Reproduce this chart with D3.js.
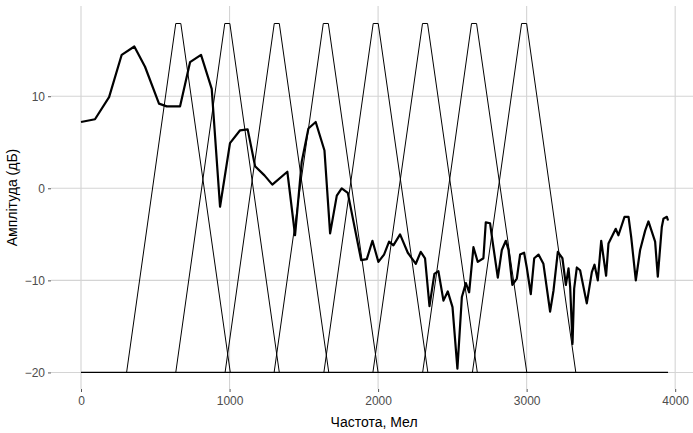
<!DOCTYPE html>
<html lang="uk">
<head>
<meta charset="UTF-8">
<title>mel filterbank</title>
<script src="https://d3js.org/d3.v7.min.js"></script>
<style>
  body { margin: 0; background: #fff; }
  text { font-family: "Liberation Sans", Arial, sans-serif; }
</style>
</head>
<body>
<script>
// spectrum (mel, dB)
var specMel = [0, 94, 189, 274, 359, 431, 525, 577, 667, 734, 808, 880, 936, 1003, 1071, 1122, 1172, 1235, 1288,
  1389, 1441, 1486, 1531, 1580, 1639, 1677, 1722, 1755, 1796, 1886, 1924, 1962, 2002, 2040, 2074, 2103, 2148,
  2200, 2254, 2287, 2316, 2346, 2379, 2406, 2440, 2469, 2501, 2534, 2564, 2591, 2613, 2642, 2671, 2709, 2725,
  2754, 2770, 2806, 2833, 2860, 2878, 2904, 2934, 2956, 2983, 3001, 3028, 3051, 3080, 3113, 3158, 3181, 3210,
  3241, 3264, 3282, 3293, 3309, 3320, 3338, 3360, 3405, 3439, 3457, 3479, 3502, 3535, 3551, 3600, 3618, 3659,
  3686, 3704, 3735, 3764, 3798, 3820, 3865, 3883, 3910, 3921, 3944, 3952];
var specDb = [7.2, 7.5, 9.9, 14.5, 15.4, 13.2, 9.2, 8.9, 8.9, 13.7, 14.5, 10.8, -2.0, 4.9, 6.3, 6.4, 2.4, 1.4, 0.4,
  1.8, -5.1, 2.9, 6.5, 7.2, 4.1, -4.9, -0.8, 0, -0.5, -7.8, -7.7, -5.7, -8.0, -7.2, -5.8, -6.2, -5.0,
  -7.0, -8.2, -6.9, -7.6, -12.8, -9.3, -9.0, -12.2, -11.2, -12.9, -19.6, -11.8, -10.3, -11.3, -6.4, -8.0, -7.6, -3.7,
  -3.8, -5.7, -9.7, -6.7, -5.7, -6.7, -10.5, -9.8, -7.2, -7.0, -8.6, -11.5, -7.6, -7.2, -8.2, -13.4, -11.1, -6.9,
  -7.6, -10.5, -8.7, -10.7, -16.9, -10.9, -8.6, -8.9, -12.5, -9.1, -8.3, -10.0, -5.7, -9.5, -6.0, -4.4, -5.1, -3.1,
  -3.1, -5.3, -10.0, -6.7, -4.6, -3.6, -5.8, -9.6, -4.2, -3.3, -3.1, -3.5];

// triangular filters (mel)
var filterCenter = [655, 985, 1318, 1648, 1984, 2316, 2646, 2983];
var filterLeft   = [307, 638, 970, 1300, 1635, 1965, 2300, 2635];
var filterRight  = [1005, 1335, 1668, 2000, 2335, 2668, 3001, 3331];
var filterTopHalf = 17;
var filterTop = 17.9;
var filterFloor = -20;
var floorStart = 0, floorEnd = 3952;

var xTicks = [0, 1000, 2000, 3000, 4000];
var yTicks = [-20, -10, 0, 10];

var w = 693, h = 433;
var mLeft = 51, mRight = 693, mTop = 6, mBottom = 389;

var x = d3.scaleLinear().domain([-202, 4120]).range([mLeft, mRight]);
var y = d3.scaleLinear().domain([-21.8, 19.8]).range([mBottom, mTop]);

var svg = d3.select("body").append("svg").attr("width", w).attr("height", h);

// grid
svg.selectAll(".gx").data(xTicks).enter().append("line")
  .attr("x1", function(d){ return x(d); }).attr("x2", function(d){ return x(d); })
  .attr("y1", mTop).attr("y2", mBottom)
  .attr("stroke", "#d4d4d4").attr("stroke-width", 1.1);
svg.selectAll(".gy").data(yTicks).enter().append("line")
  .attr("y1", function(d){ return y(d); }).attr("y2", function(d){ return y(d); })
  .attr("x1", mLeft).attr("x2", mRight)
  .attr("stroke", "#d4d4d4").attr("stroke-width", 1.1);

// axes
var xAxis = d3.axisBottom(x).tickValues(xTicks).tickFormat(d3.format("d")).tickSize(3).tickPadding(4);
var yAxis = d3.axisLeft(y).tickValues(yTicks).tickFormat(d3.format("d")).tickSize(3).tickPadding(3);

var gx = svg.append("g").attr("transform", "translate(0," + mBottom + ")").call(xAxis);
var gy = svg.append("g").attr("transform", "translate(" + mLeft + ",0)").call(yAxis);
[gx, gy].forEach(function(g){
  g.select(".domain").remove();
  g.selectAll(".tick line").attr("stroke", "#555");
  g.selectAll(".tick text").attr("fill", "#4d4d4d").attr("font-size", "12px")
    .attr("font-family", "'Liberation Sans', Arial, sans-serif");
});

// filters
var line = d3.line().x(function(d){ return x(d[0]); }).y(function(d){ return y(d[1]); });

svg.append("path")
  .attr("d", line([[floorStart, filterFloor], [floorEnd, filterFloor]]))
  .attr("fill", "none").attr("stroke", "#000").attr("stroke-width", 1.2);

svg.selectAll(".filter").data(filterCenter).enter().append("path")
  .attr("d", function(c, i){
    return line([[filterLeft[i], filterFloor], [c - filterTopHalf, filterTop],
                 [c + filterTopHalf, filterTop], [filterRight[i], filterFloor]]);
  })
  .attr("fill", "none").attr("stroke", "#000").attr("stroke-width", 1);

// spectrum
var spec = specMel.map(function(m, i){ return [m, specDb[i]]; });
svg.append("path")
  .attr("d", line(spec))
  .attr("fill", "none").attr("stroke", "#000").attr("stroke-width", 2.2)
  .attr("stroke-linejoin", "round");

// labels
svg.append("text").text("Частота, Мел")
  .attr("x", x(2000) - 4).attr("y", 427)
  .attr("text-anchor", "middle").attr("font-size", "14px").attr("fill", "#000");
svg.append("text").text("Амплітуда (дБ)")
  .attr("transform", "translate(17," + ((mTop + mBottom) / 2) + ") rotate(-90)")
  .attr("text-anchor", "middle").attr("font-size", "14px").attr("fill", "#000");
</script>
</body>
</html>
